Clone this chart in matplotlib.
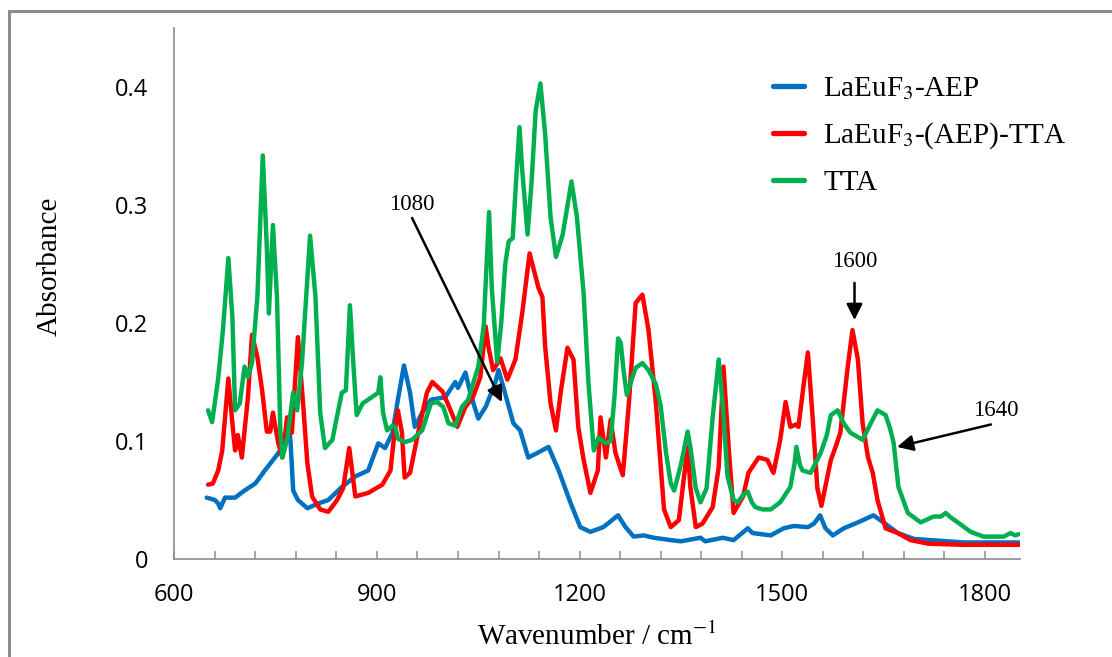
import matplotlib
matplotlib.use("Agg")
import matplotlib.pyplot as plt
from matplotlib.ticker import MultipleLocator, FixedLocator
from matplotlib.patches import Rectangle

# ---------------- data ----------------
aep_wn = [648, 660, 665, 668, 675, 690, 704, 720, 734, 749, 761, 766, 769, 772, 776, 783,
          797, 813, 828, 848, 868, 887, 902, 912, 923, 931, 940, 949, 956, 967, 980, 1001,
          1016, 1020, 1031, 1039, 1050, 1061, 1075, 1080, 1087, 1102, 1112, 1124, 1138, 1154,
          1169, 1187, 1201, 1216, 1235, 1257, 1268, 1280, 1295, 1310, 1335, 1350, 1379, 1386,
          1412, 1428, 1449, 1456, 1483, 1502, 1517, 1538, 1547, 1556, 1564, 1575, 1591, 1612,
          1635, 1650, 1671, 1695, 1720, 1769, 1850]
aep_abs = [0.052, 0.050, 0.047, 0.043, 0.052, 0.052, 0.058, 0.064, 0.075, 0.086, 0.095, 0.105,
           0.115, 0.100, 0.058, 0.050, 0.043, 0.047, 0.050, 0.061, 0.070, 0.075, 0.098, 0.094,
           0.107, 0.135, 0.164, 0.141, 0.112, 0.124, 0.135, 0.137, 0.150, 0.145, 0.158, 0.139,
           0.119, 0.129, 0.149, 0.160, 0.146, 0.115, 0.109, 0.086, 0.090, 0.095, 0.075, 0.047,
           0.027, 0.023, 0.027, 0.037, 0.027, 0.019, 0.020, 0.018, 0.016, 0.015, 0.018, 0.015,
           0.018, 0.016, 0.026, 0.022, 0.020, 0.026, 0.028, 0.027, 0.030, 0.037, 0.026, 0.020,
           0.026, 0.031, 0.037, 0.031, 0.022, 0.017, 0.016, 0.014, 0.014]

tta_complex_wn = [650, 657, 665, 671, 680, 686, 690, 694, 700, 709, 715, 723, 730, 737, 742, 746,
                  754, 760, 767, 774, 783, 791, 797, 804, 816, 828, 841, 850, 859, 868, 887, 908,
                  920, 926, 931, 937, 941, 949, 961, 974, 982, 997, 1009, 1019, 1031, 1042, 1053,
                  1061, 1065, 1072, 1083, 1093, 1105, 1115, 1126, 1135, 1139, 1145, 1149, 1157,
                  1165, 1172, 1182, 1191, 1198, 1206, 1216, 1227, 1231, 1239, 1246, 1253, 1264,
                  1273, 1283, 1293, 1302, 1313, 1325, 1335, 1347, 1354, 1360, 1364, 1372, 1382,
                  1397, 1406, 1413, 1421, 1428, 1442, 1450, 1465, 1478, 1487, 1497, 1505, 1512,
                  1520, 1524, 1532, 1538, 1545, 1552, 1558, 1572, 1579, 1586, 1597, 1604, 1612,
                  1619, 1627, 1634, 1641, 1653, 1671, 1690, 1716, 1769, 1850]
tta_complex_abs = [0.063, 0.064, 0.075, 0.092, 0.153, 0.115, 0.092, 0.105, 0.086, 0.137, 0.190,
                   0.171, 0.143, 0.108, 0.108, 0.124, 0.098, 0.086, 0.120, 0.107, 0.188, 0.129,
                   0.081, 0.053, 0.042, 0.040, 0.050, 0.060, 0.094, 0.053, 0.056, 0.063, 0.075,
                   0.107, 0.126, 0.107, 0.069, 0.073, 0.107, 0.141, 0.150, 0.142, 0.126, 0.112,
                   0.129, 0.137, 0.154, 0.197, 0.180, 0.160, 0.170, 0.152, 0.169, 0.208, 0.259,
                   0.239, 0.230, 0.222, 0.180, 0.132, 0.109, 0.141, 0.179, 0.169, 0.112, 0.084,
                   0.056, 0.075, 0.120, 0.086, 0.118, 0.090, 0.071, 0.132, 0.217, 0.224, 0.194,
                   0.132, 0.042, 0.027, 0.033, 0.067, 0.095, 0.061, 0.027, 0.030, 0.044, 0.078,
                   0.163, 0.092, 0.039, 0.053, 0.073, 0.086, 0.084, 0.073, 0.101, 0.133, 0.112,
                   0.114, 0.112, 0.149, 0.175, 0.120, 0.060, 0.045, 0.084, 0.095, 0.107, 0.163,
                   0.194, 0.169, 0.115, 0.086, 0.073, 0.050, 0.026, 0.022, 0.016, 0.013, 0.012,
                   0.012]

tta_wn = [650, 656, 665, 672, 680, 686, 690, 697, 704, 709, 715, 723, 731, 737, 740, 746, 752,
          757, 760, 767, 776, 782, 789, 801, 809, 816, 823, 834, 848, 854, 860, 865, 870, 879,
          887, 902, 905, 909, 915, 923, 927, 931, 941, 952, 967, 980, 989, 998, 1006, 1016,
          1026, 1035, 1050, 1058, 1066, 1070, 1078, 1084, 1090, 1095, 1101, 1107, 1111, 1115,
          1123, 1129, 1135, 1142, 1149, 1157, 1165, 1175, 1188, 1196, 1206, 1213, 1221, 1228,
          1234, 1239, 1246, 1252, 1257, 1261, 1265, 1270, 1276, 1283, 1293, 1302, 1313, 1320,
          1328, 1335, 1340, 1350, 1360, 1364, 1372, 1379, 1388, 1397, 1406, 1412, 1419, 1428,
          1434, 1443, 1449, 1455, 1460, 1471, 1483, 1497, 1512, 1518, 1521, 1526, 1530, 1542,
          1557, 1566, 1572, 1582, 1591, 1601, 1619, 1631, 1641, 1653, 1660, 1665, 1672, 1686,
          1705, 1724, 1735, 1742, 1750, 1760, 1779, 1798, 1828, 1838, 1845, 1850]
tta_abs = [0.126, 0.116, 0.153, 0.194, 0.255, 0.205, 0.126, 0.132, 0.163, 0.154, 0.166, 0.222,
           0.342, 0.264, 0.208, 0.283, 0.222, 0.109, 0.086, 0.101, 0.141, 0.126, 0.166, 0.274,
           0.222, 0.124, 0.094, 0.101, 0.141, 0.143, 0.215, 0.166, 0.122, 0.132, 0.135, 0.141,
           0.154, 0.124, 0.109, 0.113, 0.112, 0.102, 0.099, 0.101, 0.109, 0.132, 0.133, 0.129,
           0.115, 0.113, 0.129, 0.135, 0.163, 0.197, 0.294, 0.230, 0.167, 0.200, 0.250, 0.269,
           0.272, 0.330, 0.366, 0.330, 0.275, 0.320, 0.380, 0.403, 0.360, 0.290, 0.256, 0.275,
           0.320, 0.290, 0.225, 0.150, 0.092, 0.103, 0.100, 0.098, 0.100, 0.140, 0.187, 0.183,
           0.160, 0.139, 0.150, 0.162, 0.166, 0.160, 0.148, 0.130, 0.090, 0.064, 0.058, 0.080,
           0.108, 0.095, 0.060, 0.048, 0.060, 0.120, 0.169, 0.130, 0.070, 0.050, 0.048, 0.055,
           0.057, 0.048, 0.044, 0.042, 0.042, 0.048, 0.061, 0.080, 0.095, 0.080, 0.075, 0.073,
           0.090, 0.105, 0.122, 0.126, 0.115, 0.107, 0.101, 0.115, 0.126, 0.122, 0.110, 0.098,
           0.061, 0.039, 0.031, 0.036, 0.036, 0.039, 0.035, 0.031, 0.023, 0.019, 0.019, 0.022,
           0.020, 0.021]

series_labels = [r"LaEuF$_\mathrm{3}$-AEP", r"LaEuF$_\mathrm{3}$-(AEP)-TTA", "TTA"]
x_ticks = [600, 900, 1200, 1500, 1800]
y_ticks = [0, 0.1, 0.2, 0.3, 0.4]
y_tick_labels = ["0", "0.1", "0.2", "0.3", "0.4"]

# ---------------- figure ----------------
plt.rcParams['mathtext.fontset'] = 'stix'
W, H = 1112, 657
fig = plt.figure(figsize=(W / 100, H / 100), dpi=100)
ax = fig.add_axes([174.3 / W, 1 - 559 / H, (1020 - 174.3) / W, (559 - 28) / H])

lw = 3.2
style = dict(lw=lw, solid_joinstyle='round', solid_capstyle='round')
ax.plot(aep_wn, aep_abs, color='#0070C0', label=series_labels[0], **style)
ax.plot(tta_complex_wn, tta_complex_abs, color='#FF0000', label=series_labels[1], **style)
ax.plot(tta_wn, tta_abs, color='#00B050', label=series_labels[2], **style)

ax.set_xlim(600, 1852)
ax.set_ylim(0, 0.45)

for s in ['top', 'right']:
    ax.spines[s].set_visible(False)
for s in ['left', 'bottom']:
    ax.spines[s].set_color('#8c8c8c')
    ax.spines[s].set_linewidth(1.2)

tick_font = dict(family='Open Sans', size=17)
ax.xaxis.set_major_locator(FixedLocator(x_ticks))
ax.xaxis.set_minor_locator(MultipleLocator(60))
ax.set_xticklabels([str(t) for t in x_ticks], fontdict=tick_font)
ax.tick_params(axis='x', which='both', direction='in', length=6, width=1.1,
               color='#8c8c8c', pad=17)
ax.set_yticks(y_ticks)
ax.set_yticklabels(y_tick_labels, fontdict=tick_font)
ax.tick_params(axis='y', length=0, pad=19)

fig.text(50 / W, 1 - 266 / H, "Absorbance", rotation=90, ha='center', va='center',
         family='Liberation Serif', size=21)
fig.text(597 / W, 1 - 637 / H, r"Wavenumber / cm$^\mathrm{-1}$", ha='center', va='center',
         family='Liberation Serif', size=21)

leg = ax.legend(loc='upper left', bbox_to_anchor=(773 / W, 1 - 75 / H),
                bbox_transform=fig.transFigure, frameon=False, borderpad=0,
                borderaxespad=0, handlelength=1.05, handletextpad=0.68, labelspacing=0.64,
                prop=dict(family='Liberation Serif', size=21))
for line in leg.get_lines():
    line.set_linewidth(3.8)

# annotations
ann_font = dict(family='Liberation Serif', size=16.5)
arrow = dict(arrowstyle='-|>', color='black', lw=1.8, mutation_scale=24, shrinkA=0, shrinkB=0)
ax.text(952, 0.300, "1080", ha='center', va='center', **ann_font)
ax.annotate("", xy=(1085, 0.133), xytext=(952, 0.289), arrowprops=arrow)
ax.text(1607, 0.252, "1600", ha='center', va='center', **ann_font)
ax.annotate("", xy=(1607, 0.2025), xytext=(1607, 0.234), arrowprops=arrow)
ax.text(1816, 0.126, "1640", ha='center', va='center', **ann_font)
ax.annotate("", xy=(1670, 0.095), xytext=(1809, 0.114), arrowprops=arrow)

# outer chart border
fig.patches.append(Rectangle((9 / W, -0.1), 2, 1.1 - 11 / H, transform=fig.transFigure,
                             fill=False, edgecolor='#8c8c8c', lw=2.2))

fig.savefig("out.png", dpi=100)
